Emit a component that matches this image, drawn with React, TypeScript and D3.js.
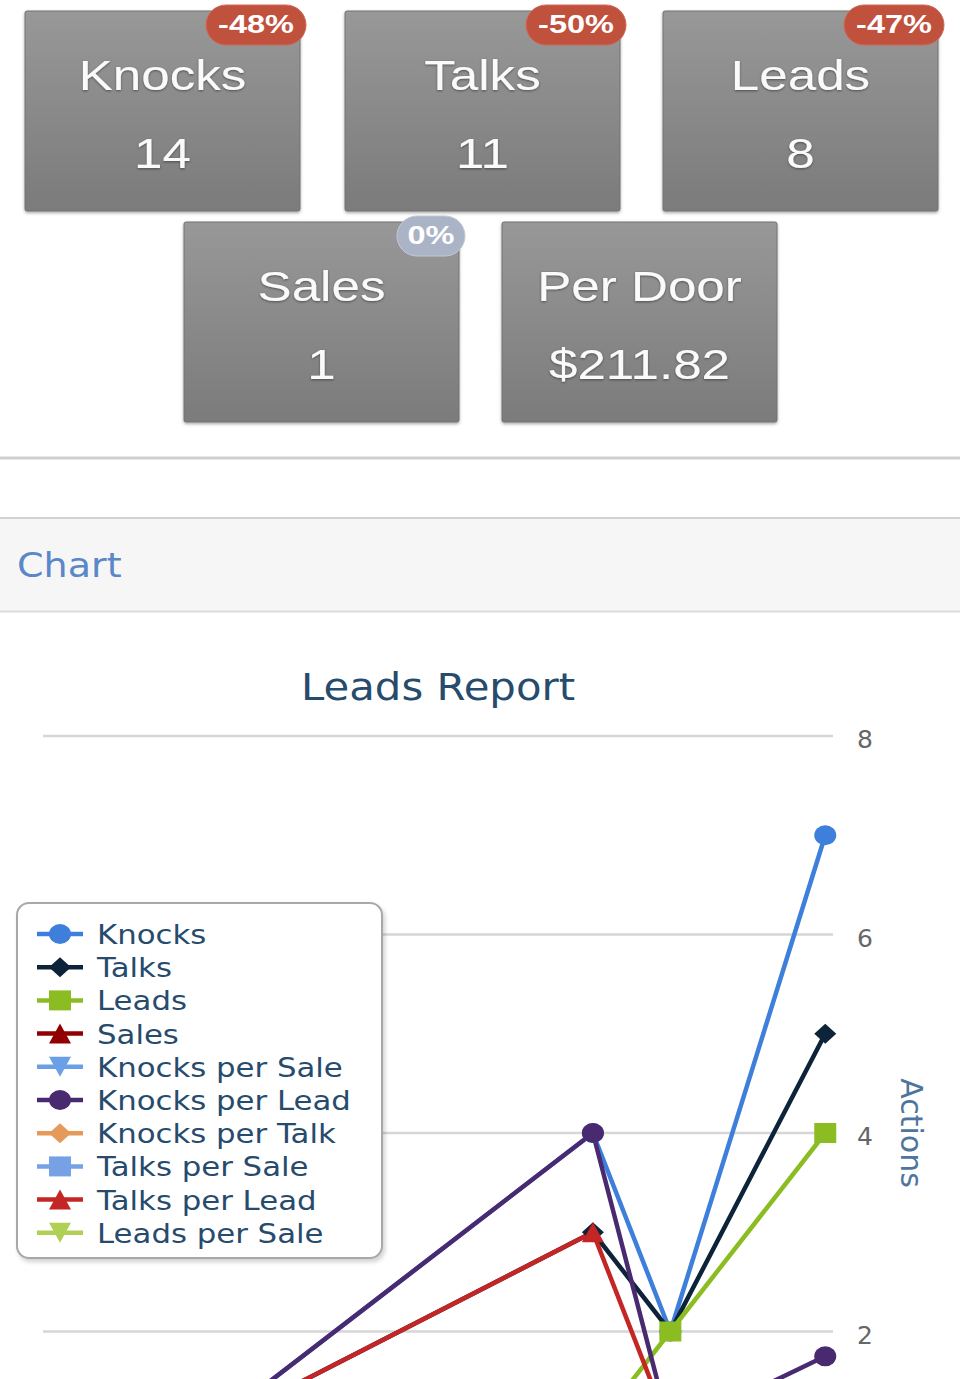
import React from 'react';
import * as d3 from 'd3';

// ---------- Data ----------
const tileLabels = ['Knocks', 'Talks', 'Leads', 'Sales', 'Per Door'];
const tileValues = ['14', '11', '8', '1', '$211.82'];
const tileChanges: (string | null)[] = ['-48%', '-50%', '-47%', '0%', null];

const chartTitle = 'Leads Report';
const panelTitle = 'Chart';
const yAxisTitle = 'Actions';
const yGridTicks = [0, 2, 4, 6, 8];
const yLabelTicks = [2, 4, 6, 8];

// day index of each data point (x axis is a day scale)
const dayIndex = [2, 7, 8, 10];

const knocks = [1, 4, 2, 7];
const talks = [1, 3, 2, 5];
const leads = [1, 1, 2, 4];
const sales = [1, 0, 0, 0];
const knocksPerSale = [1, 0, 0, 0];
const knocksPerLead = [1, 4, 1, 1.75];
const knocksPerTalk = [1, 1.33, 1, 1.4];
const talksPerSale = [1, 0, 0, 0];
const talksPerLead = [1, 3, 1, 1.25];
const leadsPerSale = [1, 0, 0, 0];

const seriesNames = [
  'Knocks', 'Talks', 'Leads', 'Sales', 'Knocks per Sale',
  'Knocks per Lead', 'Knocks per Talk', 'Talks per Sale', 'Talks per Lead', 'Leads per Sale',
];
const seriesValues = [
  knocks, talks, leads, sales, knocksPerSale,
  knocksPerLead, knocksPerTalk, talksPerSale, talksPerLead, leadsPerSale,
];

// ---------- Styles ----------
const seriesColors = [
  '#3d7fdb', '#0d233a', '#8bbc21', '#910000', '#6aa0e6',
  '#492970', '#e59a5a', '#77a1e5', '#c42525', '#b0d055',
];
const seriesSymbols = [
  'circle', 'diamond', 'square', 'triangle', 'triangle-down',
  'circle', 'diamond', 'square', 'triangle', 'triangle-down',
];

const CHART_FONT = '"DejaVu Sans", Verdana, sans-serif';
const TILE_FONT = '"Liberation Sans", Arial, Helvetica, sans-serif';

function symbolPath(kind: string, r: number): string {
  switch (kind) {
    case 'circle':
      return `M${-r},0A${r},${r} 0 1,0 ${r},0A${r},${r} 0 1,0 ${-r},0Z`;
    case 'square':
      return `M${-r},${-r}H${r}V${r}H${-r}Z`;
    case 'diamond':
      return `M0,${-r}L${r},0L0,${r}L${-r},0Z`;
    case 'triangle':
      return `M0,${-r}L${r},${r}L${-r},${r}Z`;
    case 'triangle-down':
    default:
      return `M${-r},${-r}L${r},${-r}L0,${r}Z`;
  }
}

function SText(props: {
  x: number; y: number; sx?: number; anchor?: string; size: number;
  fill: string; font: string; children: React.ReactNode; filter?: string; weight?: string | number;
}) {
  const { x, y, sx = 1, anchor = 'start', size, fill, font, children, filter, weight } = props;
  return (
    <g transform={`translate(${x},${y}) scale(${sx},1)`}>
      <text x={0} y={0} textAnchor={anchor as any} fontSize={size} fill={fill}
        fontFamily={font} filter={filter} fontWeight={weight as any}>{children}</text>
    </g>
  );
}

const tileBoxes = [
  { x: 25, y: 11 }, { x: 345, y: 11 }, { x: 663, y: 11 },
  { x: 184, y: 222 }, { x: 502, y: 222 },
];
const TILE_W = 275;
const TILE_H = 200;

export default function App() {
  const plotLeft = 43, plotRight = 833, plotTop = 736, plotBottom = 1530;
  const x = d3.scaleLinear().domain([-0.1, 10.1]).range([plotLeft, plotRight]);
  const y = d3.scaleLinear().domain([0, 8]).range([plotBottom, plotTop]);

  const line = d3.line<number>()
    .x((_, i) => x(dayIndex[i]))
    .y((d) => y(d));

  const legendX = 17, legendY = 903, legendW = 365, legendH = 355;
  const legendRowH = 33.2;
  const legendFirstBase = 944;

  return (
    <svg width={960} height={1379} viewBox="0 0 960 1379"
      style={{ position: 'absolute', left: 0, top: 0, display: 'block', background: '#ffffff' }}>
      <defs>
        <linearGradient id="tileGrad" x1="0" y1="0" x2="0" y2="1">
          <stop offset="0%" stopColor="#989898" />
          <stop offset="100%" stopColor="#7b7b7b" />
        </linearGradient>
        <filter id="tileShadow" x="-10%" y="-10%" width="120%" height="125%">
          <feDropShadow dx="0" dy="1.5" stdDeviation="1.5" floodColor="#000" floodOpacity="0.35" />
        </filter>
        <filter id="textShadow" x="-10%" y="-20%" width="120%" height="140%">
          <feDropShadow dx="0" dy="1" stdDeviation="0.9" floodColor="#333" floodOpacity="0.7" />
        </filter>
        <filter id="legendShadow" x="-10%" y="-10%" width="125%" height="125%">
          <feDropShadow dx="2" dy="3" stdDeviation="2" floodColor="#000" floodOpacity="0.18" />
        </filter>
        <clipPath id="plotClip">
          <rect x={plotLeft} y={plotTop - 20} width={plotRight - plotLeft} height={plotBottom - plotTop + 40} />
        </clipPath>
      </defs>

      {/* Stat tiles */}
      {tileBoxes.map((b, i) => {
        const cx = b.x + TILE_W / 2;
        const change = tileChanges[i];
        const badgeW = change ? 36 + 16 * change.length : 0;
        const badgeRight = b.x + TILE_W + 6;
        const badgeTop = b.y - 6;
        const neutral = change === '0%';
        return (
          <g key={tileLabels[i]}>
            <rect x={b.x} y={b.y} width={TILE_W} height={TILE_H} rx={2}
              fill="url(#tileGrad)" stroke="#727272" strokeWidth={1} filter="url(#tileShadow)" />
            <SText x={cx} y={b.y + 79} sx={1.19} anchor="middle" size={43} fill="#fafafa"
              font={TILE_FONT} filter="url(#textShadow)">{tileLabels[i]}</SText>
            <SText x={cx} y={b.y + 157} sx={1.19} anchor="middle" size={43} fill="#fafafa"
              font={TILE_FONT} filter="url(#textShadow)">{tileValues[i]}</SText>
            {change && (
              <g>
                <rect x={badgeRight - badgeW} y={badgeTop} width={badgeW} height={40} rx={20}
                  fill={neutral ? '#aab4c6' : '#c0513d'} stroke={neutral ? '#c3cad6' : '#cf6a58'} strokeWidth={1} />
                <SText x={badgeRight - badgeW / 2} y={badgeTop + 28} sx={1.3} anchor="middle" size={25}
                  fill="#ffffff" font={TILE_FONT} weight="bold">{change}</SText>
              </g>
            )}
          </g>
        );
      })}

      {/* Separators and panel header */}
      <rect x={0} y={456.5} width={960} height={3} fill="#cfcfcf" />
      <rect x={0} y={517.5} width={960} height={94} fill="#f6f6f6" />
      <rect x={0} y={517} width={960} height={2} fill="#d2d2d2" />
      <rect x={0} y={610.5} width={960} height={2} fill="#dcdcdc" />
      <SText x={17} y={577} sx={1.12} size={34} fill="#5a87c8" font={CHART_FONT}>{panelTitle}</SText>

      {/* Chart title */}
      <SText x={438} y={700} sx={1.13} anchor="middle" size={37} fill="#274b6d" font={CHART_FONT}>{chartTitle}</SText>

      {/* Grid lines */}
      {yGridTicks.map((t) => (
        <line key={`g${t}`} x1={plotLeft} x2={plotRight} y1={y(t)} y2={y(t)} stroke="#d6d6d6" strokeWidth={2.5} />
      ))}
      {/* Y axis labels (opposite side) */}
      {yLabelTicks.map((t) => (
        <text key={`l${t}`} x={857} y={y(t) + 12} fontSize={25} fill="#666666" fontFamily={CHART_FONT}>{t}</text>
      ))}
      <g transform={`translate(901,${(plotTop + plotBottom) / 2}) rotate(90)`}>
        <text x={0} y={0} textAnchor="middle" fontSize={30} fill="#4d759e" fontFamily={CHART_FONT}>{yAxisTitle}</text>
      </g>

      {/* Series */}
      <g clipPath="url(#plotClip)">
        {seriesValues.map((vals, si) => (
          <path key={`s${si}`} d={line(vals) || ''} fill="none" stroke={seriesColors[si]}
            strokeWidth={4.5} strokeLinejoin="round" strokeLinecap="round" />
        ))}
      </g>
      {seriesValues.map((vals, si) => (
        <g key={`m${si}`}>
          {vals.map((v, i) => (
            <path key={i} d={symbolPath(seriesSymbols[si], 10)} fill={seriesColors[si]}
              transform={`translate(${x(dayIndex[i])},${y(v)}) scale(1.1,1)`} />
          ))}
        </g>
      ))}

      {/* Legend */}
      <rect x={legendX} y={legendY} width={legendW} height={legendH} rx={12}
        fill="#ffffff" stroke="#a8a8a8" strokeWidth={2} filter="url(#legendShadow)" />
      {seriesNames.map((name, i) => {
        const base = legendFirstBase + i * legendRowH;
        const cy = base - 10;
        return (
          <g key={`lg${i}`}>
            <line x1={37} x2={83} y1={cy} y2={cy} stroke={seriesColors[i]} strokeWidth={4.5} />
            <path d={symbolPath(seriesSymbols[i], 10)} fill={seriesColors[i]}
              transform={`translate(60,${cy}) scale(1.1,1)`} />
            <SText x={97} y={base} sx={1.14} size={27} fill="#274b6d" font={CHART_FONT}>{name}</SText>
          </g>
        );
      })}
    </svg>
  );
}
